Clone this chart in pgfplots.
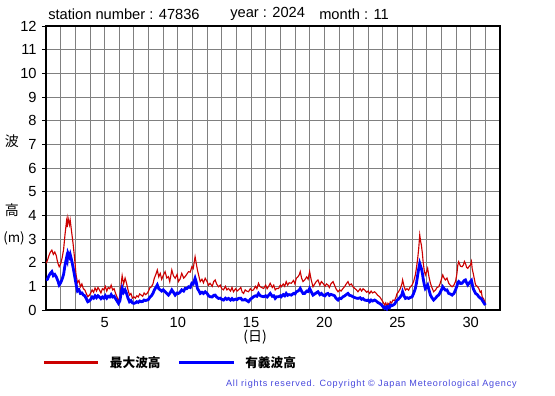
\documentclass[border=0pt]{standalone}
\usepackage{fontspec}
\setmainfont{Liberation Sans}
\newfontfamily\cjk{Noto Sans CJK JP}
\usepackage{pgfplots}
\pgfplotsset{compat=1.18}
\definecolor{maxred}{RGB}{204,0,0}
\definecolor{sigblue}{RGB}{0,0,255}
\definecolor{gridgray}{RGB}{128,128,128}
\definecolor{copyblue}{RGB}{70,70,220}
\begin{document}
\begin{tikzpicture}
\begin{axis}[
  at={(0pt,0pt)}, anchor=south west,
  scale only axis, width=340.5pt, height=213pt,
  xmin=1, xmax=32, ymin=0, ymax=12,
  xtick={5,10,15,20,25,30},
  minor xtick={1,2,...,32},
  ytick={0,1,...,12},
  ytick pos=left,
  grid=both,
  major grid style={gridgray, line width=0.6pt},
  minor grid style={gridgray, line width=0.6pt},
  axis line style={black, line width=1pt},
  tick align=outside,
  x tick style={draw=none},
  minor x tick style={draw=none},
  y tick style={black, line width=0.6pt},
  major tick length=3pt,
  /pgf/number format/assume math mode=true,
  tick label style={font=\fontsize{11}{12}\selectfont},
  yticklabel style={xshift=-0.5pt},
  xticklabel style={yshift=1pt},
  legend columns=2,
  legend style={draw=none, fill=none, at={(-0.0088,-0.1866)}, anchor=west,
    inner sep=0pt, font=\cjk\bfseries\fontsize{9.5}{11}\selectfont,
    nodes={inner sep=0pt, anchor=west},
    /tikz/every odd column/.append style={column sep=7.5pt},
    /tikz/every even column/.append style={column sep=12.75pt}},
  legend image code/.code={\draw[#1,line width=2.25pt] (0pt,0pt) -- (41pt,0pt);},
]
\addplot[maxred, line width=0.85pt] coordinates {
(1.0,1.97)(1.1,2.1)(1.2,2.3)(1.3,2.45)(1.4,2.53)(1.5,2.35)(1.6,2.45)(1.7,2.3)(1.8,2.0)(1.9,1.83)
(2.0,1.95)(2.1,2.2)(2.2,2.55)(2.3,3.2)(2.4,3.75)(2.45,3.5)(2.5,3.9)(2.6,3.6)(2.65,3.8)(2.75,3.3)
(2.85,2.8)(2.95,2.2)(3.05,1.5)(3.15,1.15)(3.25,1.25)(3.35,0.98)(3.45,1.1)(3.55,0.9)(3.65,0.85)(3.75,0.7)
(3.85,0.56)(3.95,0.62)(4.05,0.71)(4.15,0.85)(4.25,0.75)(4.35,0.93)(4.45,0.8)(4.55,0.95)(4.65,0.85)(4.75,0.72)
(4.85,0.9)(4.95,0.85)(5.05,1.0)(5.15,0.8)(5.25,0.95)(5.35,0.9)(5.45,1.05)(5.55,0.85)(5.65,0.9)(5.75,0.7)
(5.85,0.55)(5.95,0.35)(6.05,0.6)(6.15,1.2)(6.2,1.45)(6.3,1.1)(6.4,1.35)(6.5,1.13)(6.6,0.85)(6.7,0.63)
(6.8,0.7)(6.9,0.5)(7.0,0.56)(7.1,0.5)(7.2,0.6)(7.3,0.55)(7.4,0.68)(7.5,0.63)(7.6,0.58)(7.7,0.72)
(7.8,0.65)(7.9,0.7)(8.0,0.8)(8.1,0.95)(8.2,0.98)(8.3,1.1)(8.4,1.35)(8.5,1.5)(8.6,1.69)(8.7,1.4)
(8.8,1.55)(8.9,1.3)(9.0,1.45)(9.13,1.62)(9.25,1.35)(9.36,1.41)(9.45,1.2)(9.59,1.69)(9.7,1.45)(9.82,1.34)
(9.95,1.5)(10.04,1.2)(10.15,1.3)(10.27,1.55)(10.4,1.35)(10.5,1.41)(10.6,1.5)(10.73,1.62)(10.85,1.6)(10.96,1.83)
(11.05,1.75)(11.18,2.25)(11.25,2.0)(11.34,1.69)(11.45,1.4)(11.53,1.2)(11.65,1.3)(11.75,1.15)(11.87,1.34)(12.0,1.2)
(12.1,1.05)(12.2,1.13)(12.35,1.0)(12.45,1.2)(12.55,1.27)(12.65,1.1)(12.78,0.98)(12.9,1.05)(13.0,0.9)(13.12,0.85)
(13.25,1.0)(13.35,0.85)(13.46,0.91)(13.6,0.8)(13.7,0.95)(13.8,0.77)(13.95,0.9)(14.05,0.8)(14.14,0.85)(14.3,0.95)
(14.4,0.75)(14.49,0.7)(14.6,0.85)(14.7,0.8)(14.83,0.77)(14.95,0.9)(15.05,0.82)(15.17,0.85)(15.3,1.0)(15.4,0.9)
(15.51,1.13)(15.6,1.0)(15.72,0.95)(15.86,0.91)(16.0,1.05)(16.1,0.9)(16.2,1.0)(16.31,1.13)(16.45,0.95)(16.55,1.05)
(16.65,0.85)(16.75,0.91)(16.88,0.91)(17.0,1.05)(17.06,0.98)(17.2,1.1)(17.3,1.0)(17.4,1.2)(17.5,1.05)(17.6,1.15)
(17.75,1.13)(17.9,1.25)(18.0,1.1)(18.09,1.34)(18.2,1.4)(18.3,1.5)(18.36,1.62)(18.45,1.35)(18.55,1.2)(18.66,1.27)
(18.8,1.4)(18.9,1.3)(19.0,1.62)(19.1,1.3)(19.23,0.98)(19.35,1.1)(19.45,1.2)(19.57,1.27)(19.7,1.05)(19.8,1.2)
(19.91,1.13)(20.05,1.0)(20.15,1.1)(20.25,1.06)(20.35,0.95)(20.45,1.1)(20.6,1.2)(20.7,1.05)(20.8,0.9)(20.94,0.77)
(21.05,0.85)(21.15,0.8)(21.28,0.91)(21.4,1.0)(21.5,1.1)(21.62,1.2)(21.72,1.05)(21.85,1.1)(21.96,0.98)(22.1,0.9)
(22.2,0.85)(22.3,0.77)(22.45,0.9)(22.55,0.8)(22.65,0.9)(22.76,0.84)(22.9,0.75)(23.0,0.8)(23.1,0.7)(23.2,0.8)
(23.3,0.72)(23.44,0.77)(23.55,0.7)(23.65,0.62)(23.78,0.56)(23.9,0.45)(24.0,0.35)(24.12,0.21)(24.2,0.3)(24.28,0.15)
(24.35,0.28)(24.45,0.2)(24.51,0.35)(24.6,0.3)(24.7,0.42)(24.8,0.4)(24.9,0.55)(24.97,0.7)(25.05,0.75)(25.2,0.91)
(25.3,1.1)(25.35,1.27)(25.45,1.0)(25.54,0.84)(25.65,0.9)(25.76,0.84)(25.85,0.95)(26.0,1.06)(26.1,1.2)(26.22,1.48)
(26.3,1.8)(26.38,2.18)(26.45,2.6)(26.52,3.17)(26.58,2.9)(26.63,2.75)(26.7,2.4)(26.75,2.04)(26.82,1.7)(26.9,1.48)
(26.98,1.6)(27.06,1.76)(27.15,1.4)(27.25,1.13)(27.35,0.95)(27.47,0.77)(27.6,0.85)(27.7,0.95)(27.81,0.98)(27.9,1.1)
(28.0,1.3)(28.09,1.48)(28.18,1.35)(28.27,1.27)(28.38,1.35)(28.5,1.13)(28.6,1.05)(28.73,0.98)(28.85,1.05)(28.96,1.2)
(29.05,1.5)(29.12,1.9)(29.18,2.04)(29.3,1.85)(29.41,1.83)(29.5,1.9)(29.57,2.05)(29.64,1.97)(29.72,1.8)(29.8,1.76)
(29.9,1.85)(29.98,1.9)(30.05,2.05)(30.1,1.75)(30.17,1.55)(30.25,1.3)(30.33,1.06)(30.45,1.0)(30.55,0.91)(30.65,0.75)
(30.72,0.8)(30.78,0.56)(30.9,0.45)(31.0,0.28)
};
\addlegendentry{最大波高}
\addplot[sigblue, line width=2.1pt] coordinates {
(1.0,1.27)(1.1,1.3)(1.2,1.45)(1.3,1.55)(1.4,1.62)(1.5,1.45)(1.6,1.5)(1.7,1.4)(1.8,1.25)(1.9,1.06)
(2.0,1.15)(2.1,1.3)(2.2,1.5)(2.3,1.9)(2.4,2.2)(2.45,2.1)(2.5,2.4)(2.6,2.25)(2.65,2.35)(2.75,2.1)
(2.85,1.8)(2.95,1.45)(3.05,1.1)(3.15,0.8)(3.25,0.85)(3.35,0.7)(3.45,0.72)(3.55,0.63)(3.65,0.6)(3.75,0.48)
(3.85,0.35)(3.95,0.38)(4.05,0.45)(4.15,0.55)(4.25,0.5)(4.35,0.6)(4.45,0.52)(4.55,0.6)(4.65,0.55)(4.75,0.48)
(4.85,0.55)(4.95,0.5)(5.05,0.6)(5.15,0.5)(5.25,0.58)(5.35,0.55)(5.45,0.65)(5.55,0.55)(5.65,0.58)(5.75,0.48)
(5.85,0.38)(5.95,0.28)(6.05,0.4)(6.15,0.8)(6.2,0.93)(6.3,0.75)(6.4,0.85)(6.5,0.7)(6.6,0.5)(6.7,0.35)
(6.8,0.4)(6.9,0.3)(7.0,0.28)(7.1,0.3)(7.2,0.35)(7.3,0.32)(7.4,0.38)(7.5,0.35)(7.6,0.36)(7.7,0.42)
(7.8,0.4)(7.9,0.42)(8.0,0.45)(8.1,0.55)(8.2,0.6)(8.3,0.7)(8.4,0.85)(8.5,0.95)(8.6,1.06)(8.7,0.9)
(8.8,0.85)(8.9,0.8)(9.0,0.85)(9.13,0.77)(9.25,0.7)(9.36,0.63)(9.45,0.7)(9.59,0.85)(9.7,0.75)(9.82,0.63)
(9.95,0.72)(10.04,0.7)(10.15,0.75)(10.27,0.85)(10.4,0.8)(10.5,0.91)(10.6,0.9)(10.73,0.98)(10.85,0.95)(10.96,1.13)
(11.05,1.1)(11.18,1.34)(11.25,1.2)(11.34,0.91)(11.45,0.8)(11.53,0.7)(11.65,0.75)(11.75,0.7)(11.87,0.77)(12.0,0.7)
(12.1,0.6)(12.2,0.56)(12.35,0.55)(12.45,0.62)(12.55,0.63)(12.65,0.55)(12.78,0.49)(12.9,0.5)(13.0,0.45)(13.12,0.42)
(13.25,0.5)(13.35,0.45)(13.46,0.49)(13.6,0.42)(13.7,0.48)(13.8,0.42)(13.95,0.46)(14.05,0.44)(14.14,0.49)(14.3,0.5)
(14.4,0.42)(14.49,0.42)(14.6,0.45)(14.7,0.4)(14.83,0.35)(14.95,0.45)(15.05,0.5)(15.17,0.56)(15.3,0.6)(15.4,0.58)
(15.51,0.7)(15.6,0.62)(15.72,0.58)(15.86,0.56)(16.0,0.6)(16.1,0.55)(16.2,0.62)(16.31,0.7)(16.45,0.58)(16.55,0.6)
(16.65,0.49)(16.75,0.56)(16.88,0.56)(17.0,0.6)(17.06,0.56)(17.2,0.65)(17.3,0.6)(17.4,0.7)(17.5,0.62)(17.6,0.65)
(17.75,0.63)(17.9,0.7)(18.0,0.68)(18.09,0.77)(18.2,0.8)(18.3,0.85)(18.36,0.91)(18.45,0.8)(18.55,0.7)(18.66,0.7)
(18.8,0.8)(18.9,0.78)(19.0,0.91)(19.1,0.78)(19.23,0.63)(19.35,0.68)(19.45,0.72)(19.57,0.77)(19.7,0.65)(19.8,0.7)
(19.91,0.63)(20.05,0.6)(20.15,0.68)(20.25,0.7)(20.35,0.62)(20.45,0.66)(20.6,0.63)(20.7,0.6)(20.8,0.5)(20.94,0.42)
(21.05,0.5)(21.15,0.48)(21.28,0.56)(21.4,0.6)(21.5,0.65)(21.62,0.7)(21.72,0.62)(21.85,0.6)(21.96,0.56)(22.1,0.52)
(22.2,0.5)(22.3,0.49)(22.45,0.52)(22.55,0.45)(22.65,0.48)(22.76,0.42)(22.9,0.4)(23.0,0.42)(23.1,0.35)(23.2,0.42)
(23.3,0.38)(23.44,0.42)(23.55,0.38)(23.65,0.32)(23.78,0.28)(23.9,0.22)(24.0,0.15)(24.12,0.07)(24.2,0.12)(24.28,0.05)
(24.35,0.14)(24.45,0.1)(24.51,0.21)(24.6,0.18)(24.7,0.21)(24.8,0.25)(24.9,0.35)(24.97,0.42)(25.05,0.45)(25.2,0.56)
(25.3,0.65)(25.35,0.77)(25.45,0.6)(25.54,0.49)(25.65,0.52)(25.76,0.49)(25.85,0.52)(26.0,0.56)(26.1,0.7)(26.22,0.91)
(26.3,1.15)(26.38,1.48)(26.45,1.75)(26.52,1.97)(26.58,1.85)(26.63,1.76)(26.7,1.55)(26.75,1.34)(26.82,1.1)(26.9,0.91)
(26.98,0.98)(27.06,1.06)(27.15,0.85)(27.25,0.63)(27.35,0.52)(27.47,0.42)(27.6,0.5)(27.7,0.58)(27.81,0.63)(27.9,0.72)
(28.0,0.85)(28.09,0.98)(28.18,0.9)(28.27,0.84)(28.38,0.85)(28.5,0.7)(28.6,0.68)(28.73,0.63)(28.85,0.7)(28.96,0.84)
(29.05,1.0)(29.12,1.15)(29.18,1.2)(29.3,1.12)(29.41,1.13)(29.5,1.2)(29.57,1.25)(29.64,1.27)(29.72,1.15)(29.8,1.06)
(29.9,1.15)(29.98,1.2)(30.05,1.25)(30.1,1.1)(30.17,0.91)(30.25,0.8)(30.33,0.7)(30.45,0.65)(30.55,0.56)(30.65,0.5)
(30.72,0.48)(30.78,0.42)(30.9,0.3)(31.0,0.21)
};
\addlegendentry{有義波高}
\end{axis}
% titles and labels
\node[anchor=west, inner sep=0pt, font=\fontsize{11}{12}\selectfont] at (1.5pt,222pt) {station number : 47836};
\node[anchor=west, inner sep=0pt, font=\fontsize{11}{12}\selectfont] at (138pt,222pt) {year : 2024};
\node[anchor=west, inner sep=0pt, font=\fontsize{11}{12}\selectfont] at (204.75pt,222pt) {month : 11};
\node[inner sep=0pt, font=\cjk\fontsize{10.5}{12}\selectfont] at (-25.5pt,126.75pt) {波};
\node[inner sep=0pt, font=\cjk\fontsize{10.5}{12}\selectfont] at (-25.5pt,75pt) {高};
\node[inner sep=0pt, font=\cjk\fontsize{10}{12}\selectfont] at (-24pt,54pt) {(m)};
\node[inner sep=0pt, font=\cjk\fontsize{10.5}{12}\selectfont] at (156.75pt,-20.25pt) {(日)};
\node[anchor=east, inner sep=0pt, text=copyblue, font=\addfontfeatures{LetterSpace=9}\fontsize{6.8}{8}\selectfont] at (353.25pt,-55.5pt) {All rights reserved. Copyright © Japan Meteorological Agency};
\pgfresetboundingbox
\path[use as bounding box] (-34.5pt,-63.75pt) rectangle (381.75pt,232.5pt);
\end{tikzpicture}
\end{document}
